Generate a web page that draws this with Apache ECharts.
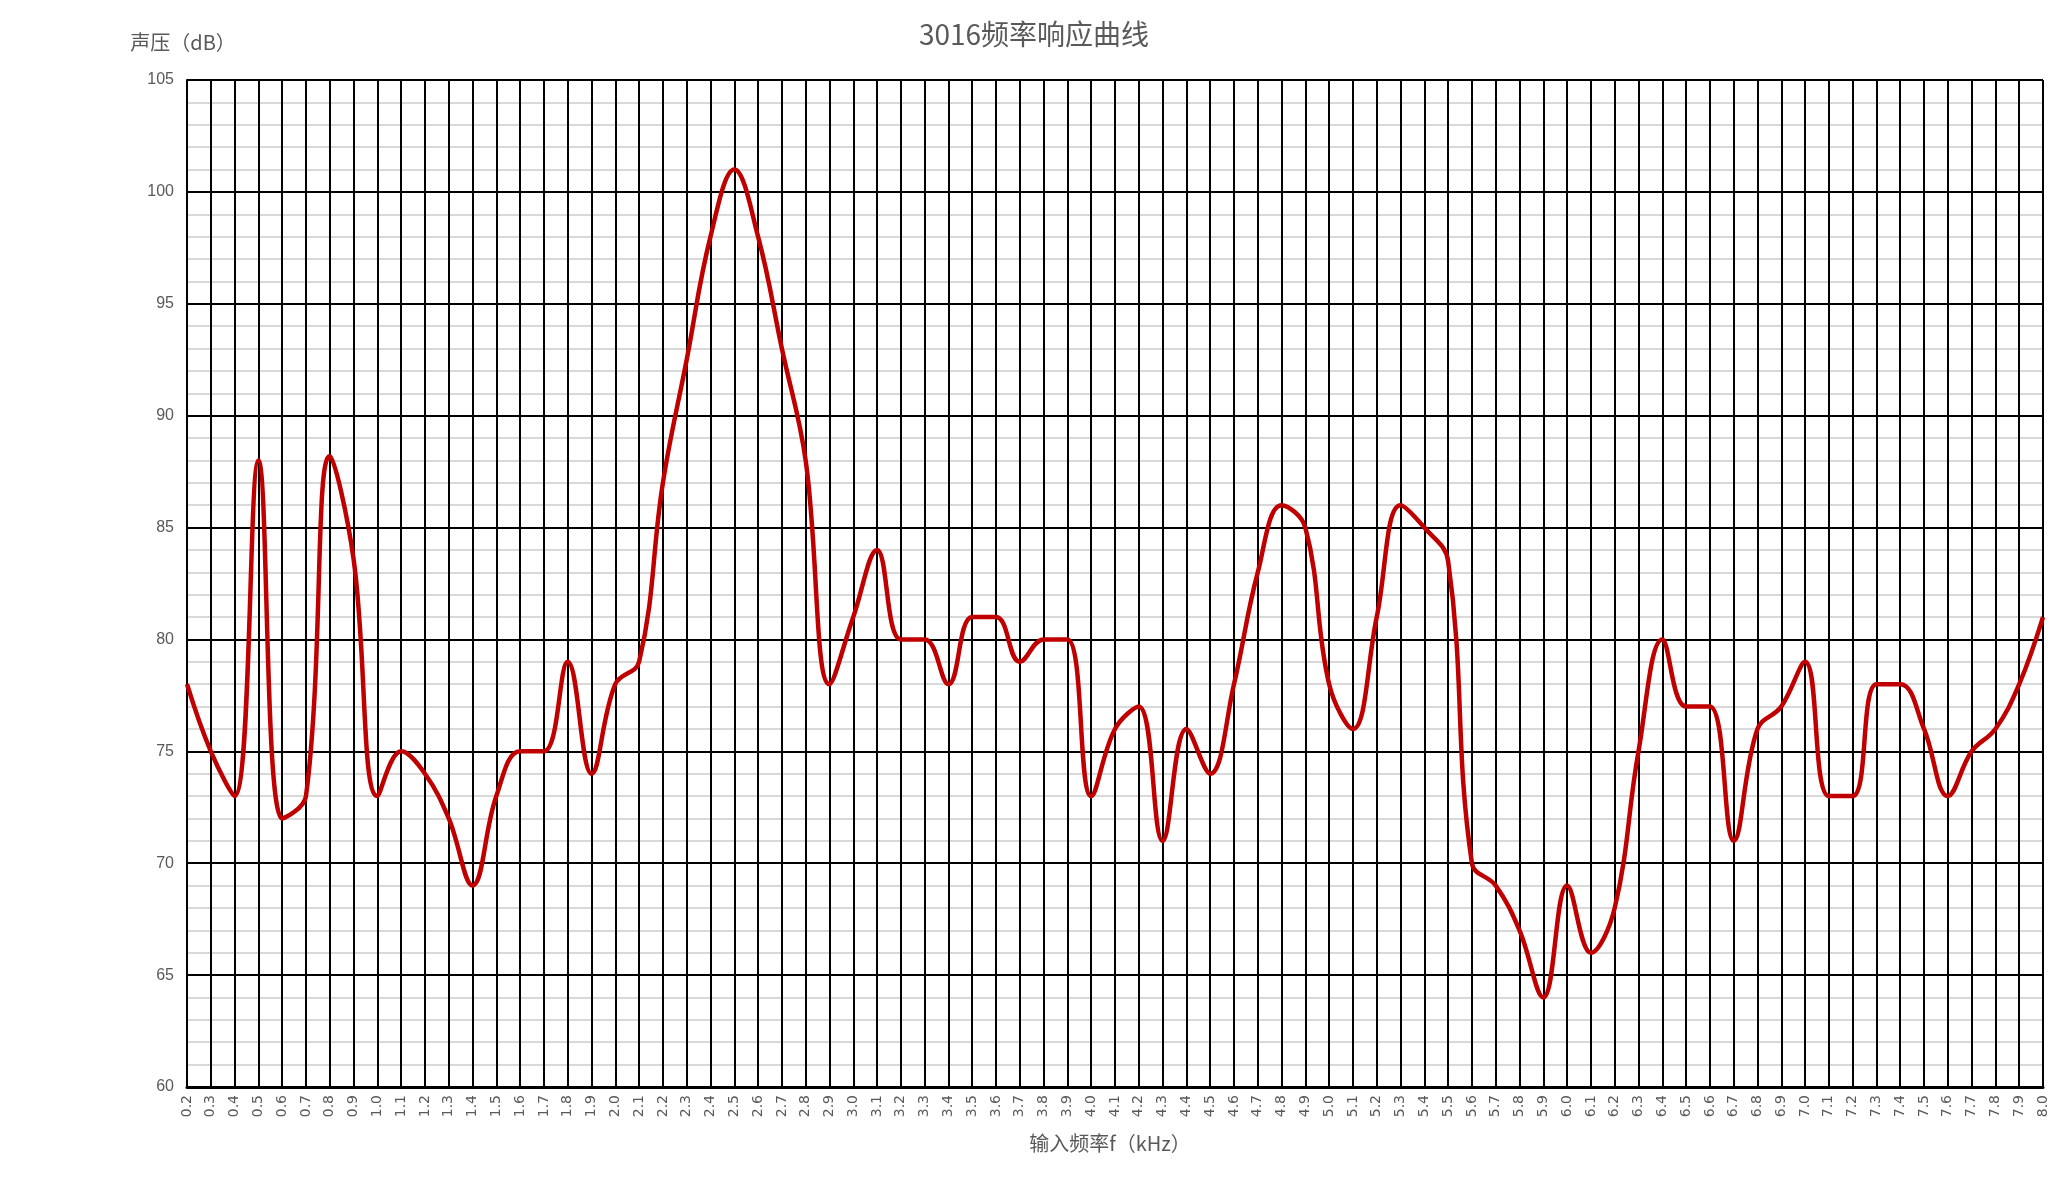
<!DOCTYPE html>
<html>
<head>
<meta charset="utf-8">
<script src="https://cdn.jsdelivr.net/npm/echarts@6/dist/echarts.min.js"></script>
<style>
html,body{margin:0;padding:0;background:#fff;}
#chart{width:2068px;height:1182px;}
</style>
</head>
<body>
<div id="chart"></div>
<script>
const titleText = '3016频率响应曲线';
const yAxisName = '声压（dB）';
const xAxisName = '输入频率f（kHz）';
const frequencies = ['0.2','0.3','0.4','0.5','0.6','0.7','0.8','0.9','1.0','1.1','1.2','1.3','1.4','1.5','1.6','1.7','1.8','1.9','2.0','2.1','2.2','2.3','2.4','2.5','2.6','2.7','2.8','2.9','3.0','3.1','3.2','3.3','3.4','3.5','3.6','3.7','3.8','3.9','4.0','4.1','4.2','4.3','4.4','4.5','4.6','4.7','4.8','4.9','5.0','5.1','5.2','5.3','5.4','5.5','5.6','5.7','5.8','5.9','6.0','6.1','6.2','6.3','6.4','6.5','6.6','6.7','6.8','6.9','7.0','7.1','7.2','7.3','7.4','7.5','7.6','7.7','7.8','7.9','8.0'];
const spl = [78,75,73,88,72,73,88.2,83.6,73,75,74,72,69,73,75,75,79,74,78,79,87,92.5,98,101,98,93,88,78,81,84,80,80,78,81,81,79,80,80,73,76,77,71,76,74,78,83,86,85,78,76,81,86,85,83.5,70,69,67,64,69,66,68,75,80,77,77,71,76,77,79,73,73,78,78,76,73,75,76,78,81];
const yMin = 60, yMax = 105, yStep = 5;

const chart = echarts.init(document.getElementById('chart'));
chart.setOption({
  animation: false,
  backgroundColor: '#ffffff',
  title: {
    text: titleText,
    left: 'center',
    top: 15,
    textStyle: {fontSize: 28, fontWeight: 'normal', color: '#595959', fontFamily: '"Noto Sans CJK SC", sans-serif'}
  },
  grid: {left: 187, right: 25, top: 80, bottom: 95, containLabel: false},
  xAxis: {
    type: 'category',
    data: frequencies,
    boundaryGap: false,
    name: xAxisName,
    nameLocation: 'middle',
    nameGap: 46,
    nameTextStyle: {fontSize: 20, color: '#595959', fontFamily: '"Noto Sans CJK SC", sans-serif', padding: [0, 10, 0, 0]},
    axisLine: {show: true, lineStyle: {color: '#000', width: 3}},
    axisTick: {show: false},
    axisLabel: {rotate: 90, interval: 0, fontSize: 14, color: '#595959', fontFamily: '"DejaVu Sans", sans-serif', margin: 8},
    splitLine: {show: true, interval: 0, lineStyle: {color: '#000', width: 2}}
  },
  yAxis: {
    type: 'value',
    min: yMin,
    max: yMax,
    interval: yStep,
    name: yAxisName,
    nameLocation: 'end',
    nameGap: 28,
    nameTextStyle: {fontSize: 20, color: '#595959', fontFamily: '"Noto Sans CJK SC", sans-serif', align: 'center', padding: [0, 8, 0, 0]},
    axisLine: {show: true, lineStyle: {color: '#000', width: 2}},
    axisTick: {show: false},
    axisLabel: {fontSize: 16, color: '#595959', fontFamily: '"Liberation Sans", sans-serif', margin: 13},
    splitLine: {show: true, lineStyle: {color: '#000', width: 2}},
    minorTick: {show: false, splitNumber: 5},
    minorSplitLine: {show: true, lineStyle: {color: '#d9d9d9', width: 2}}
  },
  series: [{
    type: 'line',
    data: spl,
    smooth: 0.4,
    symbol: 'none',
    lineStyle: {color: '#c00000', width: 4.5},
    z: 5
  }]
});
</script>
</body>
</html>
